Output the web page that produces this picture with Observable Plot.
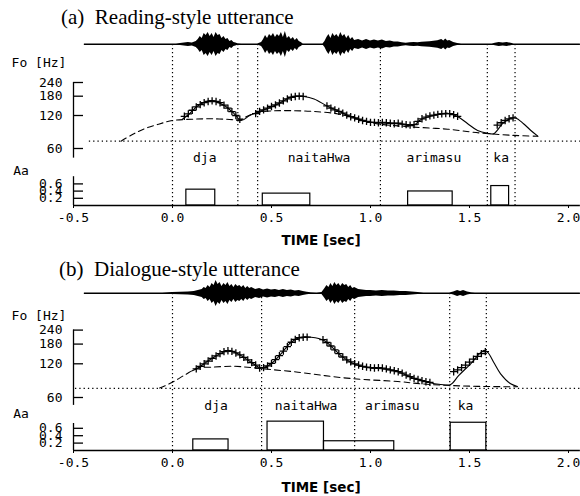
<!DOCTYPE html>
<html><head><meta charset="utf-8">
<script src="https://cdn.jsdelivr.net/npm/d3@7"></script>
<script src="https://cdn.jsdelivr.net/npm/@observablehq/plot@0.6"></script>
<style>
html,body{margin:0;padding:0;background:#fff;}
#root{position:relative;width:580px;height:496px;overflow:hidden;background:#fff;}
.title{position:absolute;font-family:"Liberation Serif","Times New Roman",serif;font-size:21px;line-height:21px;white-space:pre;color:#000;}
#root svg{position:absolute;left:0;}
</style></head><body><div id="root"></div>
<script>
// ---------- shared ticks ----------
const xTicks = [-0.5, 0.0, 0.5, 1.0, 1.5, 2.0];
const f0Ticks = [60, 120, 180, 240];
const aaTicks = [0.2, 0.4, 0.6];

// ---------- (a) Reading-style utterance ----------
const aTitle = "(a)  Reading-style utterance";
const aSegNames = ["dja", "naitaHwa", "arimasu", "ka"];
const aSegT = [0.163, 0.74, 1.32, 1.66];
const aBounds = [0.0, 0.33, 0.43, 1.05, 1.59, 1.73];
const aFb = 70;
const aFbSpan = [-0.42, 2.06];
const aF0Axis = [49, 240];
const aAaAxisTop = 0.8;
const aWaveT = [-0.445, 0.02, 0.05, 0.08, 0.10, 0.12, 0.13, 0.14, 0.15, 0.16, 0.17, 0.18, 0.19, 0.20, 0.21, 0.22, 0.23, 0.24, 0.25, 0.26, 0.27, 0.28, 0.29, 0.30, 0.31, 0.32, 0.33, 0.35,
  0.43, 0.45, 0.46, 0.47, 0.48, 0.49, 0.50, 0.51, 0.52, 0.53, 0.54, 0.55, 0.56, 0.57, 0.58, 0.59, 0.60, 0.61, 0.62, 0.63, 0.64, 0.65, 0.66,
  0.76, 0.77, 0.78, 0.79, 0.80, 0.81, 0.82, 0.83, 0.84, 0.85, 0.86, 0.87, 0.88, 0.89, 0.90, 0.91, 0.92,
  0.94, 0.96, 0.98, 1.00, 1.02, 1.04, 1.06, 1.08, 1.10, 1.12, 1.14, 1.16, 1.18, 1.20, 1.22, 1.24, 1.26, 1.28, 1.30, 1.32, 1.34, 1.36, 1.37, 1.38, 1.39, 1.40, 1.42, 1.44, 1.46,
  1.615, 1.63, 1.65, 1.67, 1.69, 1.71, 1.725, 2.06];
const aWaveAmp = [0.4, 0.5, 1.2, 2, 1.5, 3, 5, 8, 6, 11, 9, 12, 8, 11, 7, 12, 9, 10, 6, 8, 5, 6, 3, 4, 2, 1.5, 0.8, 0.5,
  0.5, 2, 5, 9, 6, 10, 8, 11, 7, 10, 8, 12, 7, 13, 6, 8, 5, 7, 4, 6, 3, 2, 0.5,
  0.5, 3, 7, 10, 6, 11, 8, 10, 7, 12, 8, 10, 6, 9, 5, 7, 4,
  5, 3.5, 5, 3.5, 4.5, 3.5, 4.5, 3, 3.5, 2.5, 2.5, 1.8, 1.2, 1.8, 2, 1.8, 2.2, 2.5, 2.8, 3.2, 3.8, 5, 3.5, 5.5, 3.5, 4, 2, 1, 0.5,
  0.5, 1.2, 2, 1.5, 2, 1.2, 0.5, 0.4];
const aModelT = [0.05, 0.08, 0.13, 0.196, 0.261, 0.311, 0.346, 0.39, 0.432, 0.533, 0.607, 0.664, 0.715, 0.785, 0.851, 0.886, 1.002, 1.138, 1.214, 1.254, 1.32, 1.39, 1.44, 1.491, 1.541, 1.592, 1.622, 1.667, 1.707, 1.733, 1.773, 1.81, 1.845];
const aModelHz = [111, 122, 148, 164, 148, 125, 108, 120, 128.6, 153, 179, 179, 170, 145, 128.6, 120, 104, 102, 97, 110, 120, 126, 117.5, 101, 87.6, 82.7, 81.8, 101, 113, 114, 101, 87.6, 77.7];
const aPhraseT = [-0.26, -0.2, -0.14, -0.07, 0.0, 0.1, 0.2, 0.3, 0.337, 0.38, 0.432, 0.5, 0.584, 0.7, 0.836, 0.95, 1.03, 1.14, 1.22, 1.39, 1.557, 1.724, 1.845];
const aPhraseHz = [70, 81, 91, 100, 108, 111, 112, 110, 108, 119, 128, 132, 133, 131, 124, 110, 101, 96.5, 94, 90, 83, 79, 77.7];
const aObsT = [0.06, 0.08, 0.10, 0.12, 0.14, 0.16, 0.18, 0.20, 0.22, 0.24, 0.26, 0.28, 0.30, 0.32, 0.34,
  0.42, 0.44, 0.46, 0.48, 0.50, 0.52, 0.54, 0.56, 0.58, 0.60, 0.62, 0.64, 0.66,
  0.78, 0.80, 0.82, 0.84, 0.86, 0.88, 0.90, 0.92, 0.94, 0.96, 0.98, 1.00, 1.02, 1.04, 1.06, 1.08, 1.10, 1.12, 1.14, 1.16, 1.18, 1.20, 1.22,
  1.24, 1.26, 1.28, 1.30, 1.32, 1.34, 1.36, 1.38, 1.40, 1.42, 1.44,
  1.64, 1.66, 1.68, 1.70, 1.72];
const aObsHz = [118, 124, 134, 144, 151, 157, 161, 163, 161, 157, 149, 140, 130, 120, 111,
  125, 131, 135, 140, 145, 150, 156, 163, 170, 176, 179, 180, 179,
  147, 140, 135, 131, 126, 121, 117, 114, 111, 108, 106, 104, 104, 103, 104, 103, 102, 101, 102, 100, 99, 98, 99,
  106, 112, 116, 119, 121, 123, 124, 125, 125, 122, 118,
  98, 103, 108, 112, 114];
const aAaOn = [0.07, 0.456, 1.19, 1.61];
const aAaOff = [0.216, 0.696, 1.415, 1.70];
const aAaAmp = [0.44, 0.33, 0.39, 0.54];

// ---------- (b) Dialogue-style utterance ----------
const bTitle = "(b)  Dialogue-style utterance";
const bSegNames = ["dja", "naitaHwa", "arimasu", "ka"];
const bSegT = [0.22, 0.675, 1.11, 1.48];
const bBounds = [0.0, 0.45, 0.92, 1.40, 1.585];
const bFb = 72.5;
const bFbSpan = [-0.49, 2.06];
const bF0Axis = [51, 240];
const bAaAxisTop = 0.73;
const bWaveT = [-0.445, -0.05, 0.0, 0.04, 0.08, 0.11, 0.13, 0.15, 0.16, 0.17, 0.18, 0.19, 0.20, 0.21, 0.22, 0.23, 0.24, 0.25, 0.26, 0.27, 0.28, 0.29, 0.30, 0.31, 0.32, 0.33, 0.34, 0.35, 0.36, 0.37, 0.38, 0.39, 0.40,
  0.42, 0.44, 0.46, 0.48, 0.50, 0.52, 0.54, 0.56, 0.58, 0.60, 0.62, 0.64, 0.66, 0.68, 0.70, 0.73, 0.755,
  0.77, 0.78, 0.79, 0.80, 0.81, 0.82, 0.83, 0.84, 0.85, 0.86, 0.87, 0.88, 0.89, 0.90, 0.91, 0.92,
  0.94, 0.96, 0.98, 1.00, 1.03, 1.06, 1.09, 1.12, 1.15, 1.18, 1.21, 1.24, 1.27,
  1.40, 1.42, 1.44, 1.455, 1.47, 1.49, 1.51, 1.53, 2.06];
const bWaveAmp = [0.4, 0.5, 1, 1.2, 1.5, 2, 3, 4, 6, 5, 8, 6, 10, 8, 13, 9, 11, 7, 10, 8, 11, 7, 9, 6, 9, 7, 8, 6, 8, 5, 7, 5, 6,
  4, 5, 3.5, 4.5, 3.5, 4, 3, 4, 3, 3.5, 2.5, 3, 2, 1.2, 0.8, 0.6, 1,
  5, 8, 6, 10, 7, 11, 8, 10, 7, 10, 8, 9, 6, 8, 5, 6,
  4, 3.5, 3, 3, 2.5, 3, 2.5, 2.5, 2, 2, 1.5, 1, 0.6,
  0.5, 1.5, 3, 2, 3, 1.5, 0.8, 0.5, 0.4];
const bModelT = [0.10, 0.135, 0.196, 0.281, 0.332, 0.397, 0.448, 0.498, 0.548, 0.599, 0.649, 0.70, 0.765, 0.815, 0.851, 0.916, 1.002, 1.068, 1.138, 1.204, 1.289, 1.355, 1.405, 1.445, 1.506, 1.571, 1.592, 1.622, 1.657, 1.708, 1.742];
const bModelHz = [104, 112, 133, 158, 147, 124, 110, 120, 147, 187, 207, 207, 194, 163, 142, 120, 110, 108, 102, 91, 82, 78.4, 78.4, 94, 120, 158, 152, 124, 97.7, 79.5, 75.3];
const bPhraseT = [-0.065, -0.001, 0.065, 0.13, 0.196, 0.312, 0.397, 0.513, 0.634, 0.735, 0.836, 0.967, 1.138, 1.254, 1.405, 1.571, 1.742];
const bPhraseHz = [73, 82, 96, 110, 112, 114, 111, 106, 101, 95.7, 91, 86.9, 83.4, 79.5, 76.8, 75.3, 74.8];
const bObsT = [0.12, 0.14, 0.16, 0.18, 0.20, 0.22, 0.24, 0.26, 0.28, 0.30, 0.32, 0.34, 0.36, 0.38, 0.40, 0.42, 0.44,
  0.46, 0.48, 0.50, 0.52, 0.54, 0.56, 0.58, 0.60, 0.62, 0.64, 0.66, 0.68,
  0.76, 0.78, 0.80, 0.82, 0.84, 0.86, 0.88, 0.90, 0.92, 0.94, 0.96, 0.98, 1.00, 1.02, 1.04, 1.06, 1.08, 1.10, 1.12, 1.14, 1.16, 1.18, 1.20, 1.22, 1.24, 1.26, 1.28, 1.30,
  1.42, 1.44, 1.46, 1.48, 1.50, 1.52, 1.54, 1.56, 1.58];
const bObsHz = [108, 114, 120, 127, 134, 141, 148, 154, 157, 155, 150, 144, 137, 130, 123, 117, 110,
  111, 115, 121, 131, 142, 156, 171, 187, 198, 205, 207, 208,
  197, 186, 173, 160, 148, 138, 130, 125, 120, 117, 114, 112, 111, 110, 111, 110, 108, 106, 104, 102, 99, 95, 92, 89, 87, 85, 83, 82,
  102, 106, 111, 117, 124, 132, 140, 148, 154];
const bAaOn = [0.105, 0.48, 0.765, 1.405];
const bAaOff = [0.283, 0.765, 1.12, 1.585];
const bAaAmp = [0.30, 0.78, 0.25, 0.75];

// ---------- layout (pixels) ----------
const MONO = "'DejaVu Sans Mono','Liberation Mono',monospace";
const X_RANGE = [73, 568];
const TICK_PX = 10;
const geomA = {top: 28, H: 222, c: 16, base: 177, y60: 120, y240: 54, aaPx: 36,
  segDy: -48, aaDy: -35, foDy: 18, timeDy: 35, titleLeft: 61, titleTop: 7.4};
const geomB = {top: 278, H: 218, c: 15, base: 172, y60: 119, y240: 51.6, aaPx: 37,
  segDy: -45, aaDy: -37, foDy: 22, timeDy: 37.5, titleLeft: 59, titleTop: 259.1};

const zip2 = (ts, vs, k) => ts.map((t, i) => ({t, [k]: vs[i]}));

function drawPanel(root, d, g) {
  const title = document.createElement("div");
  title.className = "title";
  title.textContent = d.title;
  title.style.left = g.titleLeft + "px";
  title.style.top = g.titleTop + "px";
  root.appendChild(title);

  const common = {
    width: 580, height: g.H,
    marginLeft: X_RANGE[0], marginRight: 580 - X_RANGE[1], marginTop: g.c, marginBottom: g.H - g.base,
    style: {background: "transparent", overflow: "visible", fontFamily: MONO, fontSize: "13px", color: "#000"}
  };
  const xDomain = [xTicks[0], xTicks[xTicks.length - 1]];
  const xs = {domain: xDomain, range: X_RANGE, label: null};
  const tickSec = TICK_PX * (xDomain[1] - xDomain[0]) / (X_RANGE[1] - X_RANGE[0]);

  const wave = zip2(d.waveT, d.waveAmp, "amp");
  const svgWave = Plot.plot({...common,
    x: {...xs, axis: null},
    y: {domain: [-12, 12], range: [g.c + 12, g.c - 12], axis: null, label: null},
    marks: [
      Plot.ruleX(d.bounds, {stroke: "#000", strokeWidth: 1.2, strokeDasharray: "1.3,2.7"}),
      Plot.ruleY([0], {x1: d.waveT[0], x2: d.waveT[d.waveT.length - 1], stroke: "#000", strokeWidth: 1.2}),
      Plot.areaY(wave, {x: "t", y1: w => -w.amp, y2: w => w.amp, fill: "#000"})
    ]
  });

  const model = zip2(d.modelT, d.modelHz, "hz");
  const phrase = zip2(d.phraseT, d.phraseHz, "hz");
  const obs = zip2(d.obsT, d.obsHz, "hz");
  const octPx = (g.y60 - g.y240) / 2;
  const svgF0 = Plot.plot({...common,
    x: {...xs, axis: null},
    y: {type: "log", domain: [50, 240], range: [g.y60 + Math.log2(60 / 50) * octPx, g.y240], axis: null, label: null},
    marks: [
      Plot.ruleX([xDomain[0]], {y1: d.f0Axis[0], y2: d.f0Axis[1], stroke: "#000", strokeWidth: 1.3}),
      Plot.ruleY(f0Ticks, {x1: xDomain[0], x2: xDomain[0] + tickSec, stroke: "#000", strokeWidth: 1.3}),
      Plot.text(f0Ticks, {x: xDomain[0], y: v => v, text: v => String(v), dx: -11, textAnchor: "end", lineAnchor: "middle"}),
      Plot.ruleY([d.fb], {x1: d.fbSpan[0], x2: d.fbSpan[1], stroke: "#000", strokeWidth: 1.2, strokeDasharray: "1.3,3"}),
      Plot.line(phrase, {x: "t", y: "hz", curve: "catmull-rom", stroke: "#000", strokeWidth: 1.1, strokeDasharray: "6,4"}),
      Plot.line(model, {x: "t", y: "hz", curve: "catmull-rom", stroke: "#000", strokeWidth: 1.1}),
      Plot.dot(obs, {x: "t", y: "hz", symbol: "plus", r: 2.5, stroke: "#000", strokeWidth: 1.3}),
      Plot.text(["Fo [Hz]"], {text: s => s, frameAnchor: "top-left", dx: -34.5, dy: g.foDy, textAnchor: "middle", lineAnchor: "middle"})
    ]
  });

  const bars = d.aaOn.map((on, i) => ({on, off: d.aaOff[i], amp: d.aaAmp[i]}));
  const segs = d.segNames.map((name, i) => ({name, t: d.segT[i]}));
  const svgAa = Plot.plot({...common,
    x: xs,
    y: {domain: [0, 1], range: [g.base, g.base - g.aaPx], label: null},
    marks: [
      Plot.ruleX([xDomain[0]], {y1: 0, y2: d.aaAxisTop, stroke: "#000", strokeWidth: 1.3}),
      Plot.axisY(aaTicks, {anchor: "left", tickSize: TICK_PX, dx: TICK_PX, tickPadding: 11, strokeWidth: 1.3, tickFormat: v => v.toFixed(1)}),
      Plot.rect(bars, {x1: "on", x2: "off", y1: 0, y2: "amp", stroke: "#000", fill: "none", strokeWidth: 1.2}),
      Plot.ruleY([0], {x1: xDomain[0], x2: d.fbSpan[1], stroke: "#000", strokeWidth: 1.3}),
      Plot.axisX(xTicks, {anchor: "bottom", tickSize: 3, tickPadding: 4, tickFormat: v => v.toFixed(1), label: null}),
      Plot.text(segs, {x: "t", text: "name", frameAnchor: "bottom", dy: g.segDy, textAnchor: "middle", lineAnchor: "middle"}),
      Plot.text(["Aa"], {text: s => s, frameAnchor: "bottom-left", dx: -52.5, dy: g.aaDy, textAnchor: "middle", lineAnchor: "middle"}),
      Plot.text(["TIME [sec]"], {text: s => s, frameAnchor: "bottom", dy: g.timeDy, textAnchor: "middle", lineAnchor: "middle",
        fontFamily: "'DejaVu Sans',sans-serif", fontWeight: "bold", fontSize: 13.5})
    ]
  });

  for (const svg of [svgWave, svgF0, svgAa]) {
    svg.style.top = g.top + "px";
    root.appendChild(svg);
  }
}

const root = document.getElementById("root");
drawPanel(root, {
  title: aTitle, segNames: aSegNames, segT: aSegT, bounds: aBounds, fb: aFb, fbSpan: aFbSpan,
  f0Axis: aF0Axis, aaAxisTop: aAaAxisTop, waveT: aWaveT, waveAmp: aWaveAmp,
  modelT: aModelT, modelHz: aModelHz, phraseT: aPhraseT, phraseHz: aPhraseHz,
  obsT: aObsT, obsHz: aObsHz, aaOn: aAaOn, aaOff: aAaOff, aaAmp: aAaAmp
}, geomA);
drawPanel(root, {
  title: bTitle, segNames: bSegNames, segT: bSegT, bounds: bBounds, fb: bFb, fbSpan: bFbSpan,
  f0Axis: bF0Axis, aaAxisTop: bAaAxisTop, waveT: bWaveT, waveAmp: bWaveAmp,
  modelT: bModelT, modelHz: bModelHz, phraseT: bPhraseT, phraseHz: bPhraseHz,
  obsT: bObsT, obsHz: bObsHz, aaOn: bAaOn, aaOff: bAaOff, aaAmp: bAaAmp
}, geomB);
</script>
</body></html>
